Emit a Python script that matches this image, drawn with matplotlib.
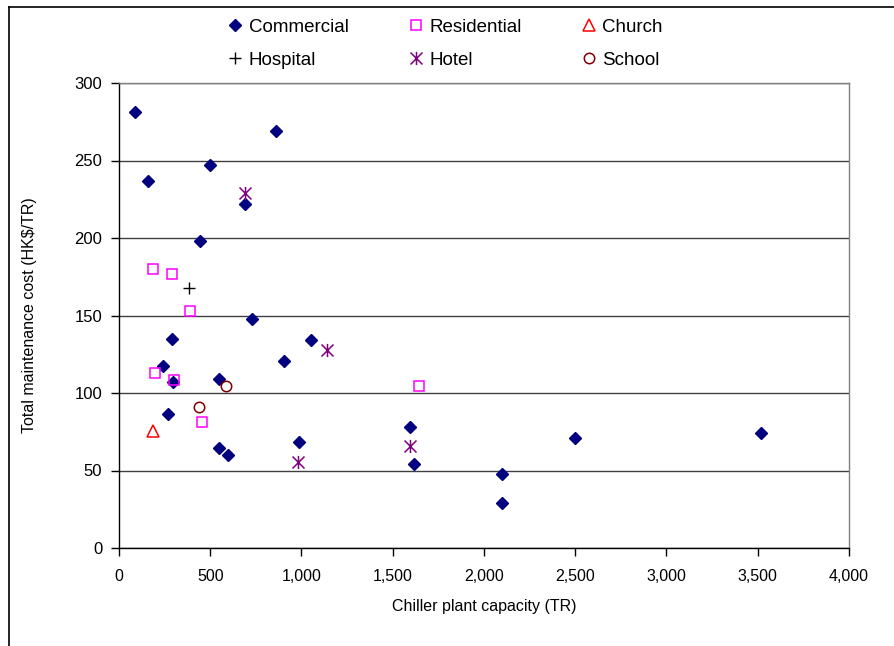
import matplotlib
matplotlib.use("Agg")
import matplotlib.pyplot as plt
from matplotlib.path import Path
from matplotlib.lines import Line2D
from matplotlib.ticker import FuncFormatter, MultipleLocator

plt.rcParams['font.family'] = ['Liberation Sans', 'DejaVu Sans']

# Data
commercial_x = [90, 160, 500, 860, 690, 445, 730, 290, 1050, 905, 240, 295, 550, 270, 550, 595, 985, 1595, 1615, 2100, 2100, 2500, 3520]
commercial_y = [281.5, 237, 247, 269, 222, 198, 148, 134.6, 134, 120.6, 117.6, 107, 108.8, 86.7, 64.3, 59.8, 68.6, 78, 54, 48, 29, 71, 74]

residential_x = [184, 289, 389, 199, 301, 455, 1644]
residential_y = [180, 176.6, 152.7, 112.7, 108.4, 81, 104.5]

church_x = [188]
church_y = [75.7]

hospital_x = [384]
hospital_y = [168]

hotel_x = [692, 1138, 983, 1595]
hotel_y = [229, 128, 55.7, 66]

school_x = [586, 440]
school_y = [104.3, 90.8]

x_label = "Chiller plant capacity (TR)"
y_label = "Total maintenance cost (HK$/TR)"

fig = plt.figure(figsize=(8.95, 6.46), dpi=100)
ax = fig.add_axes([119/895, 1-548/646, (849-119)/895, (548-83)/646])

star_path = Path([(-1, -1), (1, 1), (-1, 1), (1, -1), (0, -1.1), (0, 1.1)],
                 [Path.MOVETO, Path.LINETO, Path.MOVETO, Path.LINETO, Path.MOVETO, Path.LINETO])

h_com, = ax.plot(commercial_x, commercial_y, linestyle='none', marker='D', ms=6.2,
                 mfc='#000080', mec='#000080', label='Commercial', zorder=3)
h_res, = ax.plot(residential_x, residential_y, linestyle='none', marker='s', ms=7.5,
                 mfc='none', mec='#FF00FF', mew=1.1, label='Residential', zorder=3)
h_chu, = ax.plot(church_x, church_y, linestyle='none', marker='^', ms=9,
                 mfc='none', mec='#FF0000', mew=1.1, label='Church', zorder=3)
h_hos, = ax.plot(hospital_x, hospital_y, linestyle='none', marker='+', ms=9,
                 mec='black', mew=1.0, label='Hospital', zorder=3)
h_hot, = ax.plot(hotel_x, hotel_y, linestyle='none', marker=star_path, ms=9.5,
                 mec='#800080', mfc='none', mew=1.1, label='Hotel', zorder=3)
h_sch, = ax.plot(school_x, school_y, linestyle='none', marker='o', ms=7.5,
                 mfc='none', mec='#800000', mew=1.1, label='School', zorder=3)

ax.set_xlim(0, 4000)
ax.set_ylim(0, 300)
ax.xaxis.set_major_locator(MultipleLocator(500))
ax.yaxis.set_major_locator(MultipleLocator(50))
ax.xaxis.set_major_formatter(FuncFormatter(lambda v, p: f"{int(v):,}"))
ax.grid(axis='y', color='#404040', linewidth=1.0, zorder=0)
ax.set_axisbelow(True)

for s in ['top', 'right']:
    ax.spines[s].set_color('#808080')
    ax.spines[s].set_linewidth(1.0)
for s in ['left', 'bottom']:
    ax.spines[s].set_color('black')
    ax.spines[s].set_linewidth(1.0)

ax.tick_params(axis='both', direction='out', length=6, width=1, color='black')
ax.tick_params(axis='x', labelsize=11.5, pad=9)
ax.tick_params(axis='y', labelsize=12, pad=6)

ax.set_xlabel(x_label, fontsize=11.5, labelpad=11)
ax.set_ylabel(y_label, fontsize=11.5, labelpad=27)

handles = [h_com, h_hos, h_res, h_hot, h_chu, h_sch]
leg = fig.legend(handles=handles, labels=[h.get_label() for h in handles],
                 ncol=3, frameon=False, fontsize=13.5, loc='center',
                 bbox_to_anchor=(0.4975, 1-43.5/646), handlelength=0.8, handletextpad=0.3,
                 columnspacing=3.2, labelspacing=0.85)

# outer chart-area frame (left and top edges visible)
fig.add_artist(Line2D([8.5/895, 8.5/895], [0, 1-7/646], color='black', lw=1.2, transform=fig.transFigure))
fig.add_artist(Line2D([8.5/895, 1], [1-7/646, 1-7/646], color='black', lw=1.2, transform=fig.transFigure))

fig.savefig("out.png", dpi=100)
